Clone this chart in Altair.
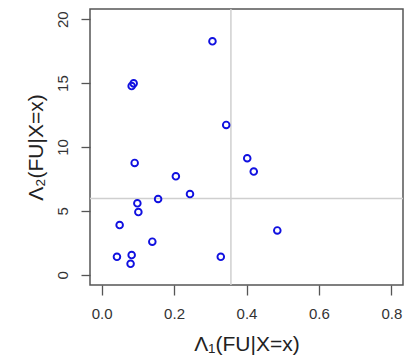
import altair as alt
import pandas as pd

# Data
lambda1 = [0.306, 0.0885, 0.083, 0.344, 0.0913, 0.402, 0.420, 0.205, 0.244, 0.156,
           0.0987, 0.1015, 0.0498, 0.485, 0.140, 0.0424, 0.083, 0.080, 0.329]
lambda2 = [18.27, 14.98, 14.77, 11.73, 8.75, 9.12, 8.08, 7.71, 6.32, 5.93,
           5.59, 4.91, 3.89, 3.47, 2.59, 1.41, 1.54, 0.86, 1.41]
vline = [0.357]
hline = [5.96]
x_ticks = [0.0, 0.2, 0.4, 0.6, 0.8]
y_ticks = [0, 5, 10, 15, 20]

df = pd.DataFrame({"l1": lambda1, "l2": lambda2})
df_v = pd.DataFrame({"v": vline})
df_h = pd.DataFrame({"h": hline})

FONT = "Liberation Sans"
W, H = 313, 276

xscale = alt.Scale(domain=[-0.032, 0.832], nice=False, zero=False)
yscale = alt.Scale(domain=[-0.8, 20.8], nice=False, zero=False)

xaxis = alt.Axis(values=x_ticks, format=".1f", title="Λ₁(FU|X=x)", grid=False, domain=False,
                 tickSize=10, tickColor="#555", tickWidth=1.3,
                 labelFont=FONT, labelFontSize=15, labelColor="#333",
                 labelBaseline="alphabetic", labelPadding=23, labelFlush=False,
                 titleFont=FONT, titleFontSize=21, titleFontWeight="normal", titleColor="#222",
                 titleBaseline="alphabetic", titleY=65, titleX=W / 2, titleAlign="center")
yaxis = alt.Axis(values=y_ticks, format="d", title="Λ₂(FU|X=x)", grid=False, domain=False,
                 tickSize=9, tickColor="#555", tickWidth=1.3,
                 labelFont=FONT, labelFontSize=15, labelColor="#333",
                 labelAngle=270, labelAlign="center", labelBaseline="alphabetic",
                 labelPadding=14, labelFlush=False,
                 titleFont=FONT, titleFontSize=21, titleFontWeight="normal", titleColor="#222",
                 titleAngle=270, titleBaseline="alphabetic", titleAlign="center",
                 titleX=-48, titleY=H / 2)

points = alt.Chart(df).mark_point(shape="circle", filled=False, color="#1010e0",
                                  size=44, strokeWidth=1.9, opacity=1).encode(
    x=alt.X("l1:Q", scale=xscale, axis=xaxis),
    y=alt.Y("l2:Q", scale=yscale, axis=yaxis),
)

vrule = alt.Chart(df_v).mark_rule(color="#cfcfcf", strokeWidth=1.5).encode(
    x=alt.X("v:Q", scale=xscale))
hrule = alt.Chart(df_h).mark_rule(color="#cfcfcf", strokeWidth=1.5).encode(
    y=alt.Y("h:Q", scale=yscale))

chart = alt.layer(vrule, hrule, points).properties(
    width=W, height=H,
    autosize=alt.AutoSizeParams(type="none"),
    padding={"left": 90, "top": 9, "right": 1, "bottom": 71},
    background="white",
).configure_view(stroke="#555", strokeWidth=1.5)

chart.save("out.html", embed_options={"renderer": "svg", "actions": False})
